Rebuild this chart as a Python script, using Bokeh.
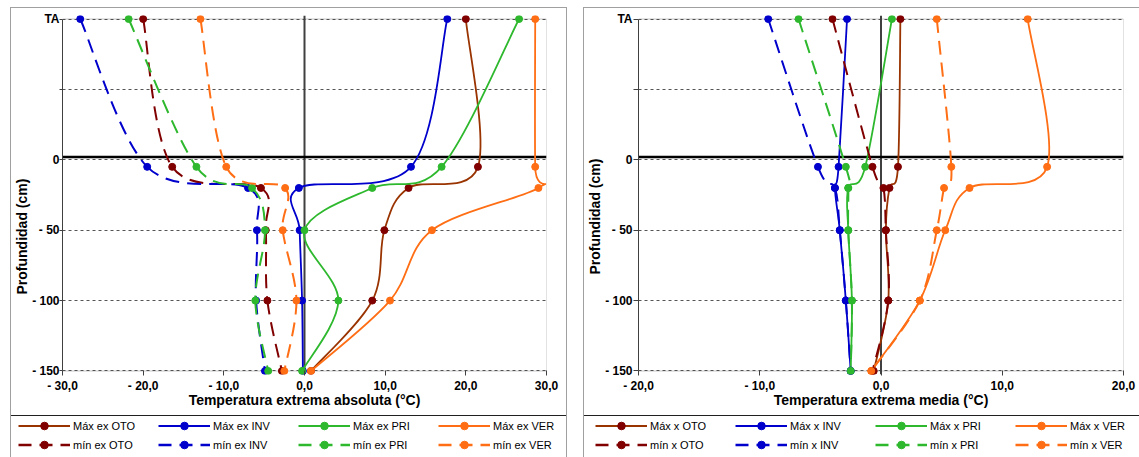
import numpy as np
from bokeh.plotting import figure
from bokeh.models import (Range1d, FixedTicker, Span, BoxAnnotation, Title,
                          Legend, LegendItem, ColumnDataSource, Spacer)
from bokeh.layouts import row, column
from bokeh.embed import file_html
from bokeh.resources import INLINE

# ---------------- data ----------------
# depth of each reading in cm; 100 stands for "TA" (air temperature)
depth_cm = [100, -5, -20, -50, -100, -150]
y_ticks = [-150, -100, -50, 0, 50, 100]
y_tick_labels = ["- 150", "- 100", "- 50", "0", "", "TA"]

abs_x_ticks = [-30, -20, -10, 0, 10, 20, 30]
abs_x_labels = ["- 30,0", "- 20,0", "- 10,0", "0,0", "10,0", "20,0", "30,0"]
med_x_ticks = [-20, -10, 0, 10, 20]
med_x_labels = ["- 20,0", "- 10,0", "0,0", "10,0", "20,0"]

# left panel: absolute extreme temperatures (degC)
max_ex_OTO = [20.0, 21.5, 12.9, 9.9, 8.4, 0.8]
max_ex_INV = [17.7, 13.2, -0.7, -0.6, -0.3, -0.2]
max_ex_PRI = [26.6, 17.0, 8.4, 0.0, 4.2, -0.3]
max_ex_VER = [28.6, 28.6, 29.0, 15.8, 10.6, 0.8]
min_ex_OTO = [-20.0, -16.4, -5.4, -4.8, -4.6, -2.8]
min_ex_INV = [-27.8, -19.5, -7.0, -5.9, -6.0, -4.9]
min_ex_PRI = [-21.8, -13.4, -6.5, -4.9, -6.1, -4.5]
min_ex_VER = [-12.9, -9.7, -2.4, -2.7, -1.0, -2.5]

# right panel: mean extreme temperatures (degC)
max_x_OTO = [1.6, 1.4, 0.7, 0.4, 0.6, -0.6]
max_x_INV = [-2.8, -3.5, -3.8, -3.4, -2.9, -2.5]
max_x_PRI = [0.9, -1.3, -2.7, -2.7, -2.4, -2.5]
max_x_VER = [12.1, 13.7, 7.3, 5.3, 3.2, -0.8]
min_x_OTO = [-4.0, -0.7, 0.2, 0.4, 0.6, -0.7]
min_x_INV = [-9.3, -5.2, -3.8, -3.4, -2.9, -2.5]
min_x_PRI = [-6.8, -2.9, -2.7, -2.7, -2.4, -2.5]
min_x_VER = [4.6, 5.8, 5.2, 4.6, 3.2, -0.8]

abs_series = [
    ("Máx ex OTO", max_ex_OTO, "OTO", "solid"),
    ("Máx ex INV", max_ex_INV, "INV", "solid"),
    ("Máx ex PRI", max_ex_PRI, "PRI", "solid"),
    ("Máx ex VER", max_ex_VER, "VER", "solid"),
    ("mín ex OTO", min_ex_OTO, "OTO", "dash"),
    ("mín ex INV", min_ex_INV, "INV", "dash"),
    ("mín ex PRI", min_ex_PRI, "PRI", "dash"),
    ("mín ex VER", min_ex_VER, "VER", "dash"),
]
med_series = [
    ("Máx x OTO", max_x_OTO, "OTO", "solid"),
    ("Máx x INV", max_x_INV, "INV", "solid"),
    ("Máx x PRI", max_x_PRI, "PRI", "solid"),
    ("Máx x VER", max_x_VER, "VER", "solid"),
    ("mín x OTO", min_x_OTO, "OTO", "dash"),
    ("mín x INV", min_x_INV, "INV", "dash"),
    ("mín x PRI", min_x_PRI, "PRI", "dash"),
    ("mín x VER", min_x_VER, "VER", "dash"),
]

# ---------------- styles ----------------
line_colors = {("OTO", "solid"): "#993300", ("OTO", "dash"): "#800000",
               ("INV", "solid"): "#0000CC", ("INV", "dash"): "#0000CC",
               ("PRI", "solid"): "#2EB82E", ("PRI", "dash"): "#2EB82E",
               ("VER", "solid"): "#FF6E14", ("VER", "dash"): "#FF6E14"}
marker_colors = {"OTO": "#800000", "INV": "#0000CC", "PRI": "#2EB82E", "VER": "#FF6E14"}
DASH = "14 8"
FONT = "Liberation Sans"
BORDER = "#A0A0A0"
LEG_H = 41


def smooth_segments(xs, ys):
    """Bezier segments through the points (Excel-like smoothed line)."""
    x = np.asarray(xs, float)
    y = np.asarray(ys, float)
    n = len(x)
    xp = np.concatenate([[x[0]], x, [x[-1]]])
    yp = np.concatenate([[y[0]], y, [y[-1]]])
    return dict(
        x0=x[:-1], y0=y[:-1], x1=x[1:], y1=y[1:],
        cx0=x[:-1] + (xp[2:n + 1] - xp[0:n - 1]) / 6.0,
        cy0=y[:-1] + (yp[2:n + 1] - yp[0:n - 1]) / 6.0,
        cx1=x[1:] - (xp[3:n + 2] - xp[1:n]) / 6.0,
        cy1=y[1:] - (yp[3:n + 2] - yp[1:n]) / 6.0,
    )


def make_plot(series, x_ticks, x_labels, x_title, width, b_left, b_right,
              tick_out, label_standoff, ytitle_offset):
    p = figure(width=width, height=407,
               x_range=Range1d(x_ticks[0], x_ticks[-1]), y_range=Range1d(-152.5, 102.5),
               output_backend="svg", toolbar_location=None, frame_align=False,
               min_border_left=b_left, min_border_right=b_right,
               min_border_top=7, min_border_bottom=41,
               outline_line_color=None, background_fill_color="white",
               border_fill_color="white")

    p.xgrid.visible = False
    p.ygrid.ticker = FixedTicker(ticks=y_ticks)
    p.ygrid.grid_line_color = "#555555"
    p.ygrid.grid_line_dash = "3 3"
    p.ygrid.grid_line_width = 1

    xa = p.xaxis[0]
    xa.ticker = FixedTicker(ticks=x_ticks)
    xa.major_label_overrides = {t: l for t, l in zip(x_ticks, x_labels)}
    xa.axis_line_color = None
    xa.major_tick_in = 4
    xa.major_tick_out = 1
    xa.major_tick_line_color = "#404040"
    xa.minor_tick_line_color = None
    xa.major_label_standoff = 3
    xa.major_label_text_font = FONT
    xa.major_label_text_font_style = "bold"
    xa.major_label_text_font_size = "12px"
    xa.major_label_text_color = "black"
    xa.axis_label = x_title
    xa.axis_label_text_font = FONT
    xa.axis_label_text_font_style = "bold"
    xa.axis_label_text_font_size = "14px"
    xa.axis_label_text_color = "black"
    xa.axis_label_standoff = -4

    ya = p.yaxis[0]
    ya.ticker = FixedTicker(ticks=y_ticks)
    ya.major_label_overrides = {t: l for t, l in zip(y_ticks, y_tick_labels)}
    ya.bounds = (-150, 100)
    ya.axis_line_color = "#404040"
    ya.major_tick_in = 0
    ya.major_tick_out = tick_out
    ya.major_tick_line_color = "#404040"
    ya.minor_tick_line_color = None
    ya.major_label_standoff = label_standoff
    ya.major_label_text_font = FONT
    ya.major_label_text_font_style = "bold"
    ya.major_label_text_font_size = "12px"
    ya.major_label_text_color = "black"

    # y-axis title, placed along the axis where the original has it
    p.add_layout(Title(text="Profundidad (cm)", align="left", offset=ytitle_offset,
                       standoff=0, text_font=FONT, text_font_style="bold",
                       text_font_size="14px", text_color="black"), "left")

    p.add_layout(Span(location=0, dimension="height", line_color="#404040",
                      line_width=2, level="underlay"))
    p.add_layout(Span(location=2, dimension="width", line_color="black",
                      line_width=2.5, level="underlay"))
    p.add_layout(BoxAnnotation(left=x_ticks[0], right=x_ticks[-1], bottom=y_ticks[0],
                               top=y_ticks[-1], fill_color=None, fill_alpha=0,
                               line_color="#404040", line_width=1, level="underlay"))

    for label, vals, season, style in series:
        lc = line_colors[(season, style)]
        mc = marker_colors[season]
        src = ColumnDataSource(smooth_segments(vals, depth_cm))
        kw = dict(line_width=1.8) if style == "solid" else dict(line_width=2, line_dash=DASH)
        p.bezier(x0="x0", y0="y0", x1="x1", y1="y1", cx0="cx0", cy0="cy0",
                 cx1="cx1", cy1="cy1", source=src, line_color=lc, **kw)
        p.scatter(vals, depth_cm, marker="circle", size=7, fill_color=mc, line_color=mc)
    return p


def make_legend(series, width, x_start):
    lf = figure(width=width, height=LEG_H, x_range=Range1d(0, 1), y_range=Range1d(0, 1),
                x_axis_type=None, y_axis_type=None, output_backend="svg",
                toolbar_location=None, frame_align=False, min_border=0,
                min_border_left=0, min_border_right=0,
                min_border_top=0, min_border_bottom=0,
                outline_line_color=None, background_fill_color="white",
                border_fill_color="white")
    for k, (label, vals, season, style) in enumerate(series):
        lc = line_colors[(season, style)]
        mc = marker_colors[season]
        kw = dict(line_width=2.2) if style == "solid" else dict(line_width=2.5, line_dash="13 8")
        # legend keys only: a single undefined point, nothing is drawn in the box itself
        lr = lf.line(x=[np.nan], y=[np.nan], line_color=lc, **kw)
        sr = lf.scatter(x=[np.nan], y=[np.nan], marker="circle", size=4,
                        fill_color=mc, line_color=mc)
        col, rw = k % 4, k // 4
        leg = Legend(items=[LegendItem(label=label, renderers=[lr, sr])],
                     location=(x_start + 140 * col, LEG_H - 19 * (rw + 1)),
                     glyph_width=52, glyph_height=19, label_height=19,
                     label_standoff=3, spacing=0, padding=0, margin=0,
                     border_line_alpha=0, background_fill_alpha=0,
                     label_text_font=FONT, label_text_font_size="11px",
                     label_text_color="black")
        lf.add_layout(leg, "center")
    return lf


def vline(h):
    return Spacer(width=1, height=h, styles={"background-color": BORDER})


def hline(w, color):
    return Spacer(width=w, height=1, styles={"background-color": color})


p1 = make_plot(abs_series, abs_x_ticks, abs_x_labels, "Temperatura extrema absoluta (°C)",
               width=555, b_left=48, b_right=20, tick_out=3, label_standoff=0,
               ytitle_offset=80)
p2 = make_plot(med_series, med_x_ticks, med_x_labels, "Temperatura extrema media (°C)",
               width=555, b_left=52, b_right=16, tick_out=5, label_standoff=1,
               ytitle_offset=100)
l1 = make_legend(abs_series, 555, 7)
l2 = make_legend(med_series, 555, 11)

chart1 = column(Spacer(width=557, height=7), hline(557, BORDER),
                row(vline(449), column(p1, hline(555, "#202020"), l1), vline(449)))
chart2 = column(Spacer(width=556, height=7), hline(556, BORDER),
                row(vline(449), column(p2, hline(555, "#202020"), l2)))

layout = row(Spacer(width=10, height=457), chart1, Spacer(width=16, height=457), chart2)
open("out.html", "w").write(file_html(layout, INLINE))
